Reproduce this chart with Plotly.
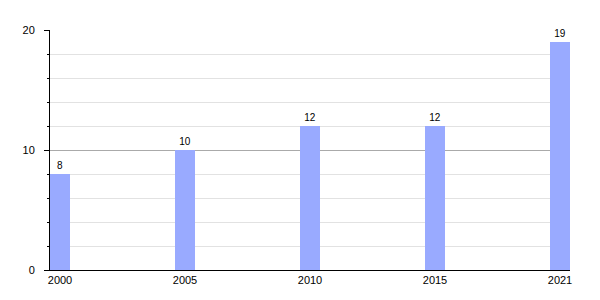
import plotly.graph_objects as go

years = ["2000", "2005", "2010", "2015", "2021"]
values = [8, 10, 12, 12, 19]

FONT = "Liberation Sans, Arial, sans-serif"

fig = go.Figure()
fig.add_trace(go.Bar(
    x=years, y=values,
    text=[str(v) for v in values],
    textposition="outside",
    textfont=dict(family=FONT, size=10, color="#000"),
    marker=dict(color="#99aaff", line=dict(width=0)),
    width=0.16,
    cliponaxis=False,
))

fig.update_layout(
    width=600, height=300,
    margin=dict(l=50, r=30, t=30, b=30),
    paper_bgcolor="white", plot_bgcolor="white",
    showlegend=False,
    font=dict(family=FONT, size=11, color="#000"),
    xaxis=dict(
        type="category", range=[-0.08, 4.08],
        showline=True, linecolor="black", linewidth=1,
        showgrid=False, ticks="", ticklabelstandoff=0,
        tickfont=dict(family=FONT, size=11, color="#000"),
        fixedrange=True,
    ),
    yaxis=dict(
        range=[0, 20], tickvals=[0, 10, 20],
        showline=True, linecolor="black", linewidth=1,
        ticks="outside", ticklen=5, tickcolor="black",
        tickfont=dict(family=FONT, size=11, color="#000"),
        showgrid=True, gridcolor="#aaaaaa", gridwidth=1,
        zeroline=False, ticklabelstandoff=7,
        minor=dict(dtick=2, ticks="outside", ticklen=2, tickcolor="black",
                   showgrid=True, gridcolor="#e2e2e2", gridwidth=1),
    ),
)

fig.write_html("out.html")
